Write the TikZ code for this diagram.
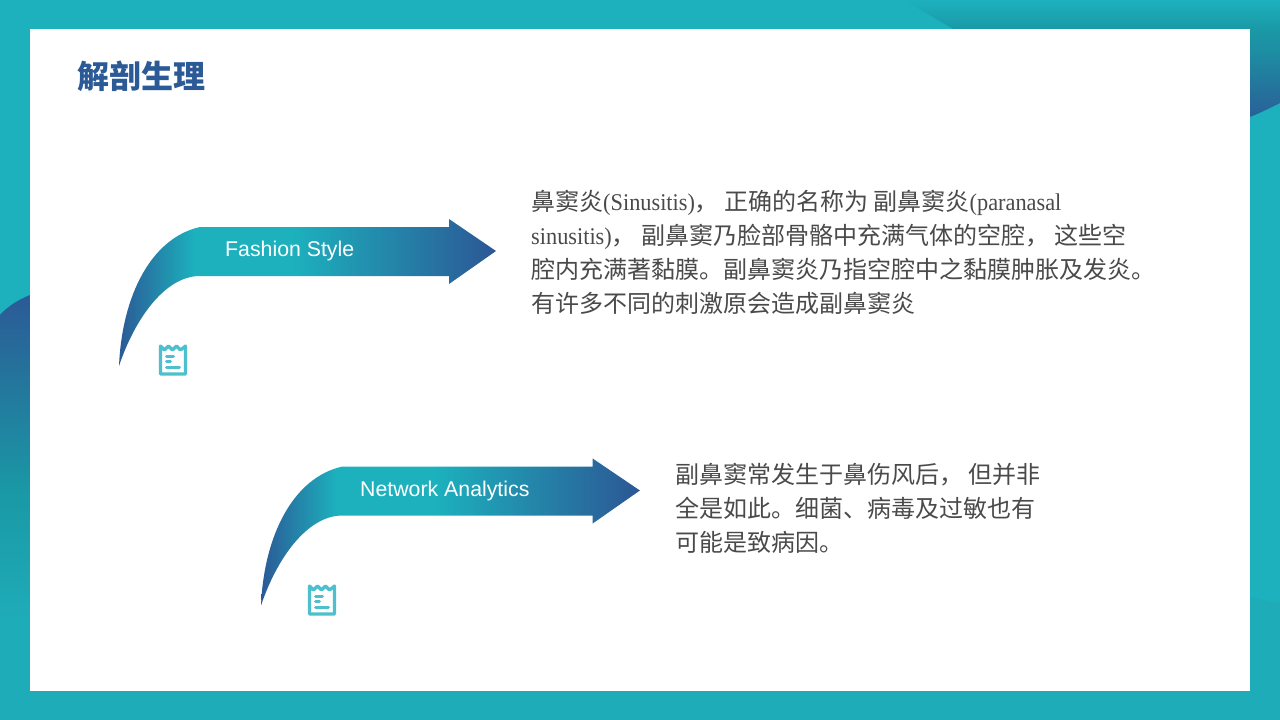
\documentclass[tikz,border=0pt]{standalone}
\usepackage{fontspec}
\usepackage{xcolor}
\setmainfont{Noto Sans CJK SC}
\newfontfamily\latinfont[FakeStretch=0.93]{Liberation Serif}
\newfontfamily\labelfont{Liberation Sans}
\usetikzlibrary{positioning}

\definecolor{tealbg}{HTML}{1CB1BD}
\definecolor{tealdk}{HTML}{1A98A5}
\definecolor{tealsoft}{HTML}{1EACB8}
\definecolor{navy}{HTML}{2B5A96}
\definecolor{iconcol}{HTML}{4DBFCF}
\definecolor{bodycol}{HTML}{4A4A4A}

\pgfdeclarehorizontalshading{arrowfade}{100bp}{
  color(0bp)=(navy); color(25bp)=(navy); color(35bp)=(tealbg);
  color(48bp)=(tealbg); color(74bp)=(navy); color(100bp)=(navy)}
\pgfdeclareverticalshading{topfade}{100bp}{
  color(0bp)=(navy); color(25bp)=(navy); color(55bp)=(tealdk!85!navy);
  color(63bp)=(tealdk); color(75bp)=(tealbg); color(100bp)=(tealbg)}
\pgfdeclareverticalshading{leftfade}{100bp}{
  color(0bp)=(tealsoft); color(37bp)=(tealsoft); color(52bp)=(tealdk);
  color(75bp)=(navy); color(100bp)=(navy)}

\tikzset{
    bodytext/.style={anchor=north west, align=left, inner sep=0pt, text=bodycol,
        font=\fontsize{24}{34}\selectfont},
    arrowlabel/.style={text=white, inner sep=0pt, font=\labelfont\fontsize{21.3}{24}\selectfont},
    iconline/.style={draw=iconcol, line width=3.2pt, line cap=round, line join=round},
    bentarrow/.pic={
        \shade[shading=arrowfade]
            (0,0) .. controls (3,-70) and (32,-128) .. (81,-139)
            -- (330,-139) -- (330,-147) -- (377,-115) -- (330,-82) -- (330,-90)
            -- (81,-90) .. controls (45,-90) and (15,-45) .. (0,0) -- cycle;
    },
    receipt/.pic={
        \draw[iconline] (0,0) -- (0,-28) -- (4,-24) -- (8,-28) -- (12,-24) -- (16,-28)
            -- (20,-24) -- (25,-28) -- (25,0) -- cycle;
        \draw[iconline, line width=3pt] (6,-18) -- (13,-18);
        \draw[iconline, line width=3pt] (6,-13) -- (10,-13);
        \draw[iconline, line width=3pt] (6,-7) -- (19,-7);
    }
}

\begin{document}
\begin{tikzpicture}[x=1pt,y=-1pt]
    \useasboundingbox (0,0) rectangle (1280,720);

    % Background
    \fill[tealbg] (0,0) rectangle (1280,720);
    \shade[shading=topfade]
        (905,0) .. controls (1000,60) and (1130,125) .. (1250,117)
        .. controls (1262,112) and (1272,107) .. (1280,103) -- (1280,0) -- cycle;
    \shade[shading=leftfade]
        (0,315) .. controls (8,306) and (18,300) .. (30,295) -- (30,720) -- (0,720) -- cycle;
    \fill[tealsoft] (1250,597) -- (1280,604) -- (1280,720) -- (1250,720) -- cycle;
    \fill[tealsoft] (0,691) rectangle (1280,720);
    \fill[white] (30,29) rectangle (1250,691);

    % Title
    \node[anchor=west, inner sep=0pt, text=navy, font=\fontsize{32}{36}\bfseries\selectfont]
        (title) at (77,76) {解剖生理};

    % Upper arrow
    \pic at (119,366) {bentarrow};
    \node[arrowlabel, anchor=west] (fashion) at (225,250.5) {Fashion Style};
    \pic at (160.5,374) {receipt};
    \node[bodytext] (para1) at (531,190) {%
        鼻窦炎{\latinfont (Sinusitis)}， 正确的名称为 副鼻窦炎{\latinfont (paranasal}\\
        {\latinfont sinusitis)}， 副鼻窦乃脸部骨骼中充满气体的空腔， 这些空\\
        腔内充满著黏膜。副鼻窦炎乃指空腔中之黏膜肿胀及发炎。\\
        有许多不同的刺激原会造成副鼻窦炎};

    % Lower arrow
    \pic[xscale=1.005] at (261,605.5) {bentarrow};
    \node[arrowlabel, anchor=west] (network) at (360,490.5) {Network Analytics};
    \pic at (309.5,614) {receipt};
    \node[bodytext] (para2) at (675,463) {%
        副鼻窦常发生于鼻伤风后， 但并非\\
        全是如此。细菌、病毒及过敏也有\\
        可能是致病因。};
\end{tikzpicture}
\end{document}
